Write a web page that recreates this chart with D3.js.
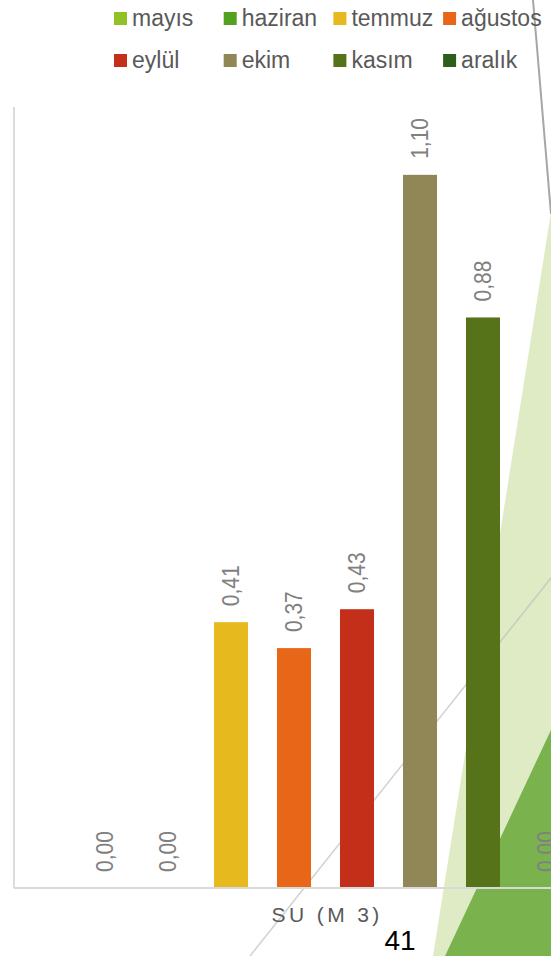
<!DOCTYPE html>
<html>
<head>
<meta charset="utf-8">
<script src="https://cdn.jsdelivr.net/npm/d3@7"></script>
<style>
  html, body { margin: 0; padding: 0; background: #fff; }
  svg { display: block; font-family: "Liberation Sans", Arial, sans-serif; }
</style>
</head>
<body>
<div id="chart"></div>
<script>
// aylar ve su tüketimi (m3)
const months = ["mayıs", "haziran", "temmuz", "ağustos", "eylül", "ekim", "kasım", "aralık"];
const values = [0.00, 0.00, 0.41, 0.37, 0.43, 1.10, 0.88, 0.00];
const colors = ["#90c226", "#54a021", "#e6b91e", "#e76618", "#c42f1a", "#918655", "#56731a", "#2e5f1a"];
const category = "SU (M 3)";
const pageNumber = "41";

const W = 551, H = 956;
const baseY = 888, topY = 110;

const svg = d3.select("#chart").append("svg")
  .attr("width", W)
  .attr("height", H);

// slayt arka plan şekilleri
svg.append("polygon")
  .attr("points", "551,212 433,956 551,956")
  .attr("fill", "#dfebc5");
svg.append("polygon")
  .attr("points", "551,730 445,956 551,956")
  .attr("fill", "#7ab34e");
svg.append("line")
  .attr("x1", 250).attr("y1", 956).attr("x2", 551).attr("y2", 578)
  .attr("stroke", "#bfbfbf").attr("stroke-opacity", 0.7).attr("stroke-width", 1.5);
svg.append("line")
  .attr("x1", 533).attr("y1", 0).attr("x2", 551).attr("y2", 214)
  .attr("stroke", "#a6a6a6").attr("stroke-width", 2);

const x = d3.scaleBand()
  .domain(months)
  .range([88, 563])
  .paddingInner(0.46)
  .paddingOuter(0);

const y = d3.scaleLinear()
  .domain([0, 1.2])
  .range([baseY, topY]);

const fmt = d3.formatLocale({ decimal: ",", thousands: ".", grouping: [3], currency: ["", ""] }).format(".2f");

const data = months.map((m, i) => ({ month: m, value: values[i], color: colors[i] }));

// eksen çizgileri
svg.append("line")
  .attr("x1", 14).attr("x2", 14)
  .attr("y1", 107).attr("y2", baseY)
  .attr("stroke", "#dcdcdc").attr("stroke-width", 2);

svg.selectAll(".bar")
  .data(data)
  .enter().append("rect")
  .attr("class", "bar")
  .attr("x", d => x(d.month))
  .attr("y", d => y(d.value))
  .attr("width", x.bandwidth())
  .attr("height", d => baseY - y(d.value))
  .attr("fill", d => d.color);

svg.append("line")
  .attr("x1", 14).attr("x2", W)
  .attr("y1", baseY).attr("y2", baseY)
  .attr("stroke", "#d9d9d9").attr("stroke-width", 2);

// değer etiketleri (dikey)
svg.selectAll(".lbl")
  .data(data)
  .enter().append("text")
  .attr("class", "lbl")
  .attr("transform", d => `translate(${x(d.month) + x.bandwidth() / 2},${y(d.value) - 16}) rotate(-90) scale(1,1.1)`)
  .attr("dy", "0.35em")
  .attr("text-anchor", "start")
  .attr("fill", "#808080")
  .style("font-size", "21px")
  .text(d => fmt(d.value));

// kategori başlığı (harf aralıklı, her harf ayrı tspan)
const catX = (x("ağustos") + x.bandwidth() + x("eylül")) / 2;
const title = svg.append("text")
  .attr("x", catX - 54)
  .attr("y", 922)
  .attr("fill", "#595959")
  .style("font-size", "21px");
title.selectAll("tspan")
  .data(category.split(""))
  .enter().append("tspan")
  .attr("dx", (d, i) => i === 0 ? 0 : 3.4)
  .text(d => d === " " ? "\u00a0" : d);

svg.append("text")
  .attr("x", 400)
  .attr("y", 950)
  .attr("text-anchor", "middle")
  .attr("fill", "#000")
  .style("font-size", "28px")
  .text(pageNumber);

// lejant
const legend = svg.append("g");
const item = legend.selectAll(".leg")
  .data(data)
  .enter().append("g")
  .attr("class", "leg")
  .attr("transform", (d, i) => `translate(${114 + (i % 4) * 109.7},${i < 4 ? 12 : 54})`);

item.append("rect")
  .attr("width", 13).attr("height", 13)
  .attr("fill", d => d.color);

item.append("text")
  .attr("x", 18)
  .attr("y", 14)
  .attr("fill", "#595959")
  .style("font-size", "23px")
  .text(d => d.month);
</script>
</body>
</html>
